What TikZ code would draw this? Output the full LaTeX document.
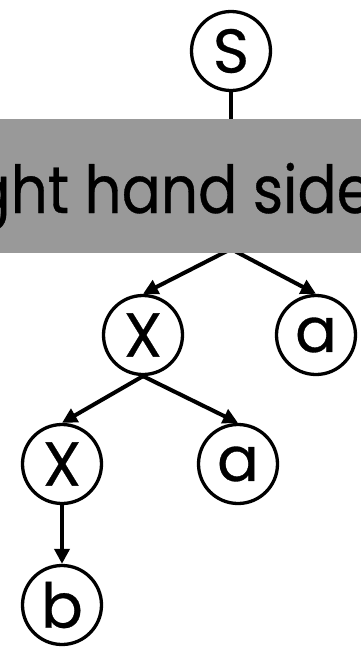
\documentclass[tikz,border=0pt]{standalone}
\usepackage{fontspec}
\setmainfont{Poppins}
\newfontfamily\labelfont{Poppins}[FakeBold=0.5]
\newfontfamily\bannerfont{Poppins}[FakeStretch=0.88,FakeBold=0.5]
\usetikzlibrary{arrows.meta}
\definecolor{boxgray}{RGB}{153,153,153}
\begin{document}
\begin{tikzpicture}[x=1pt,y=-1pt,
  sym/.style={circle,draw,line width=3.3pt,minimum size=79pt,inner sep=0pt,
    font=\labelfont\fontsize{62}{62}\selectfont},
  edge/.style={line width=4pt},
  arr/.style={edge,-{Triangle[length=15pt,width=15pt]}},
  banner/.style={rectangle,fill=boxgray,inner xsep=150pt,inner ysep=0pt,
    text height=94pt,text depth=40pt,font=\bannerfont\fontsize{66}{66}\selectfont}]
\useasboundingbox (0,0) rectangle (361,649);
\clip (0,0) rectangle (361,649);
% tree nodes
\node[sym] (S)  at (231,51)  {S};
\node[sym] (X1) at (143,335) {X};
\node[sym] (a1) at (316,335) {a};
\node[sym] (X2) at (62,464)  {X};
\node[sym] (a2) at (238,464) {a};
\node[sym] (b)  at (62,605)  {b};
\coordinate (hub) at (231,249);
% connectors
\draw[edge] (S) -- (hub);
\draw[arr] (hub) -- (X1.north);
\draw[arr] (hub) -- (a1.north);
\draw[arr] (X1.south) -- (X2.north);
\draw[arr] (X1.south) -- (a2.north);
\draw[arr] (X2.south) -- (b.north);
% banner laid over the upper part of the tree
\node[banner,anchor=base east] (rhs) at (523,213) {Right hand side};
\end{tikzpicture}
\end{document}
